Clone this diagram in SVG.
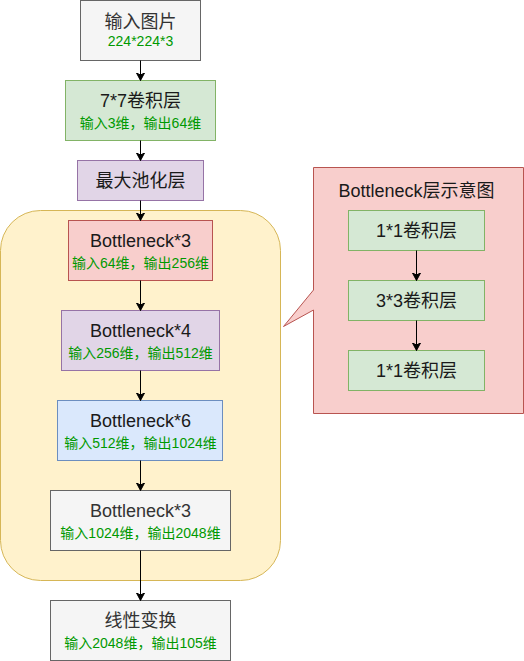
<svg xmlns="http://www.w3.org/2000/svg" width="524" height="661" viewBox="0 0 524 661">
<defs>
<marker id="arr" markerUnits="userSpaceOnUse" markerWidth="10" markerHeight="10" refX="8" refY="5" orient="auto">
<path d="M0.5,1 L8,5 L0.5,9 L2.5,5 Z" fill="#000" stroke="#000" stroke-width="1"/>
</marker>
<style>
text{font-family:"Liberation Sans","Noto Sans CJK SC",sans-serif;text-anchor:middle}
.m{font-size:18px;fill:#1a1a1a}
.g{font-size:14px;fill:#009900}
.gt{fill:#333333}
.gray{fill:#f5f5f5;stroke:#666666}
.green{fill:#d5e8d4;stroke:#82b366}
.purple{fill:#e1d5e7;stroke:#9673a6}
.red{fill:#f8cecc;stroke:#b85450}
.blue{fill:#dae8fc;stroke:#6c8ebf}
.conn line{stroke:#000;stroke-width:1;marker-end:url(#arr)}
</style>
</defs>
<rect id="container" x="0.5" y="210.5" width="280" height="370" rx="40" ry="40" fill="#fff2cc" stroke="#d6b656"/>
<g id="callout">
<path d="M313.5,167.5 H523.5 V413.5 H313.5 V310 L283.5,326.5 L313.5,290 Z" class="red"/>
<text x="416.5" y="196.5" class="m">Bottleneck层示意图</text>
</g>
<g id="n1"><rect x="80.5" y="0.5" width="120" height="60" class="gray"/><text x="140.5" y="28" class="m gt">输入图片</text><text x="140.5" y="46" class="g">224*224*3</text></g>
<g id="n2"><rect x="65.5" y="80.5" width="150" height="60" class="green"/><text x="140.5" y="107" class="m">7*7卷积层</text><text x="140.5" y="128" class="g">输入3维，输出64维</text></g>
<g id="n3"><rect x="77.5" y="160.5" width="126" height="40" class="purple"/><text x="140.5" y="187" class="m">最大池化层</text></g>
<g id="n4"><rect x="68.5" y="220.5" width="144" height="60" class="red"/><text x="140.5" y="246.5" class="m">Bottleneck*3</text><text x="140.5" y="268" class="g">输入64维，输出256维</text></g>
<g id="n5"><rect x="61.5" y="310.5" width="158" height="60" class="purple"/><text x="140.5" y="336.5" class="m">Bottleneck*4</text><text x="140.5" y="358" class="g">输入256维，输出512维</text></g>
<g id="n6"><rect x="57.5" y="400.5" width="165" height="60" class="blue"/><text x="140.5" y="426.5" class="m">Bottleneck*6</text><text x="140.5" y="448" class="g">输入512维，输出1024维</text></g>
<g id="n7"><rect x="50.5" y="490.5" width="180" height="60" class="gray"/><text x="140.5" y="516.5" class="m gt">Bottleneck*3</text><text x="140.5" y="538" class="g">输入1024维，输出2048维</text></g>
<g id="n8"><rect x="50.5" y="600.5" width="180" height="60" class="gray"/><text x="140.5" y="626.5" class="m gt">线性变换</text><text x="140.5" y="648" class="g">输入2048维，输出105维</text></g>
<g id="b1"><rect x="348.5" y="210.5" width="136" height="40" class="green"/><text x="416.5" y="236.5" class="m">1*1卷积层</text></g>
<g id="b2"><rect x="348.5" y="280.5" width="136" height="40" class="green"/><text x="416.5" y="306.5" class="m">3*3卷积层</text></g>
<g id="b3"><rect x="348.5" y="350.5" width="136" height="40" class="green"/><text x="416.5" y="376.5" class="m">1*1卷积层</text></g>
<g id="connectors" class="conn">
<line x1="140.5" y1="60.5" x2="140.5" y2="80.5"/>
<line x1="140.5" y1="140.5" x2="140.5" y2="160.5"/>
<line x1="140.5" y1="200.5" x2="140.5" y2="220.5"/>
<line x1="140.5" y1="280.5" x2="140.5" y2="310.5"/>
<line x1="140.5" y1="370.5" x2="140.5" y2="400.5"/>
<line x1="140.5" y1="460.5" x2="140.5" y2="490.5"/>
<line x1="140.5" y1="550.5" x2="140.5" y2="600.5"/>
<line x1="416.5" y1="250.5" x2="416.5" y2="280.5"/>
<line x1="416.5" y1="320.5" x2="416.5" y2="350.5"/>
</g>
</svg>
